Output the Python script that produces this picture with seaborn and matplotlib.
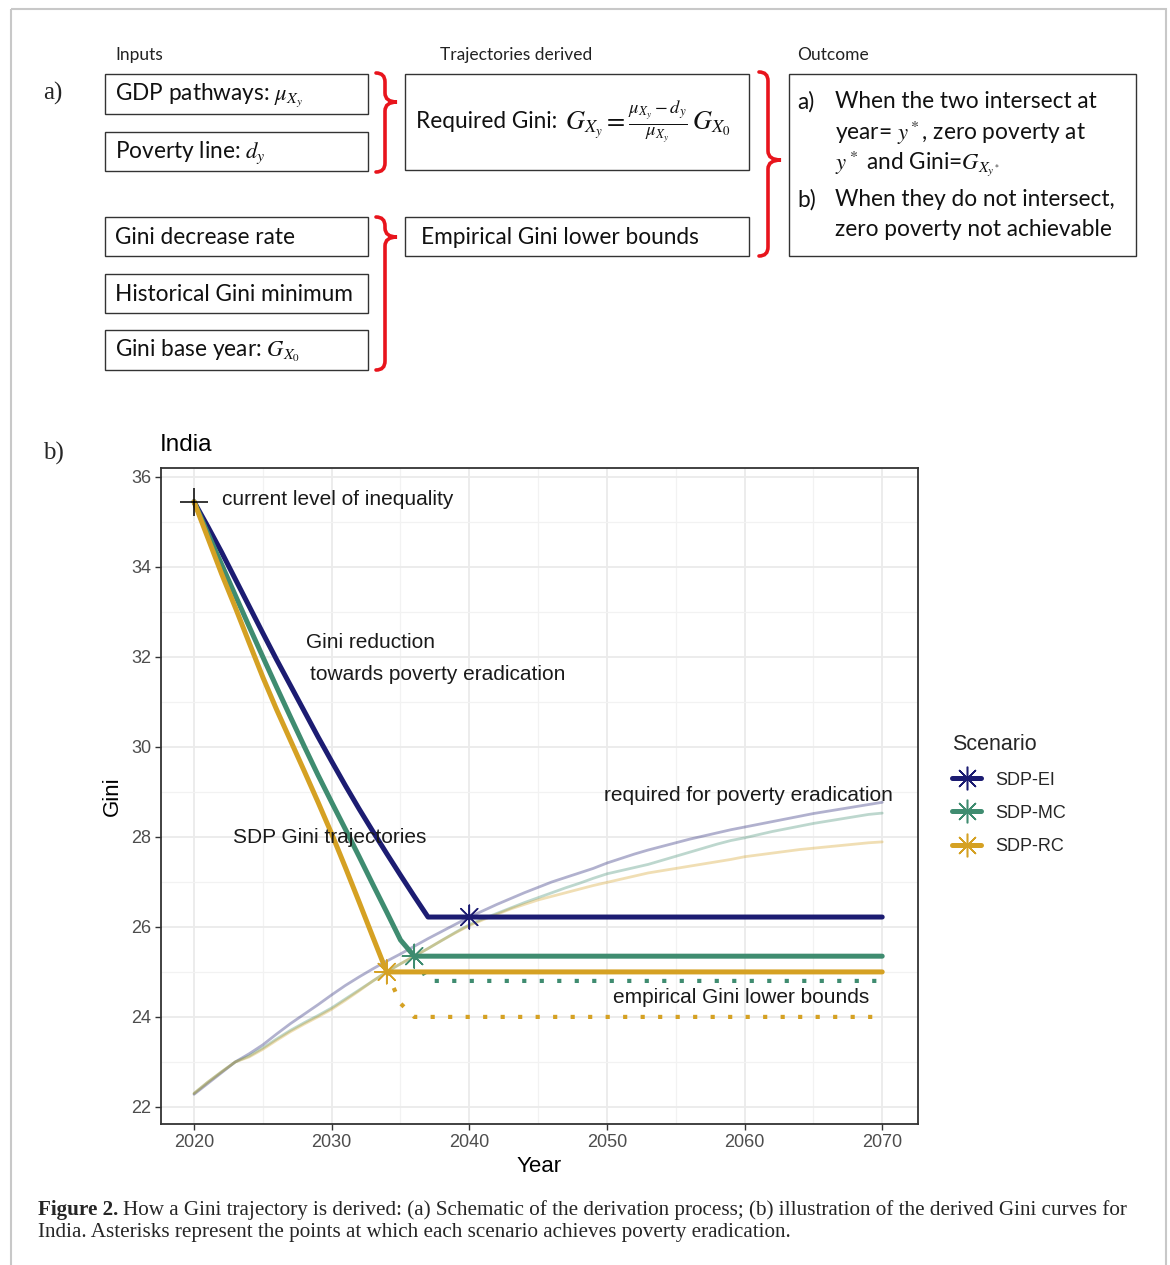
import matplotlib
matplotlib.use("Agg")
import numpy as np
import pandas as pd
import seaborn as sns
import matplotlib.pyplot as plt
from matplotlib.patches import Rectangle, PathPatch
from matplotlib.path import Path
from matplotlib.lines import Line2D

# ---- data ----
scenarios = ["SDP-EI", "SDP-MC", "SDP-RC"]
colors = ["#1c1c72", "#3f8c70", "#d5a123"]

# Gini required for poverty eradication (annual, 2020-2070)
req_years = list(range(2020, 2071))
req_ei = [22.28, 22.52, 22.76, 23.00, 23.18, 23.38, 23.62, 23.85, 24.06, 24.27,
          24.49, 24.70, 24.89, 25.07, 25.24, 25.40, 25.57, 25.74, 25.90, 26.06,
          26.22, 26.36, 26.50, 26.63, 26.76, 26.88, 27.00, 27.10, 27.20, 27.30,
          27.42, 27.52, 27.62, 27.71, 27.79, 27.87, 27.95, 28.02, 28.09, 28.16,
          28.22, 28.28, 28.34, 28.40, 28.46, 28.52, 28.57, 28.62, 28.67, 28.72,
          28.77]
req_mc = [22.30, 22.55, 22.78, 23.00, 23.13, 23.31, 23.51, 23.70, 23.87, 24.03,
          24.20, 24.40, 24.60, 24.80, 25.00, 25.18, 25.35, 25.52, 25.70, 25.88,
          26.05, 26.18, 26.30, 26.42, 26.54, 26.65, 26.76, 26.87, 26.97, 27.08,
          27.18, 27.25, 27.32, 27.39, 27.48, 27.57, 27.66, 27.75, 27.84, 27.92,
          27.98, 28.05, 28.12, 28.18, 28.24, 28.30, 28.35, 28.40, 28.45, 28.50,
          28.53]
req_rc = [22.30, 22.55, 22.78, 23.00, 23.11, 23.28, 23.48, 23.67, 23.84, 24.00,
          24.17, 24.37, 24.58, 24.80, 25.00, 25.18, 25.35, 25.52, 25.70, 25.87,
          26.03, 26.16, 26.28, 26.40, 26.50, 26.60, 26.68, 26.76, 26.84, 26.92,
          26.99, 27.06, 27.13, 27.20, 27.25, 27.30, 27.35, 27.40, 27.45, 27.50,
          27.56, 27.60, 27.64, 27.68, 27.72, 27.75, 27.78, 27.81, 27.84, 27.87,
          27.89]

# SDP Gini trajectories
traj_years_ei = list(range(2020, 2038)) + [2070]
traj_ei = [35.45, 34.90, 34.33, 33.73, 33.13, 32.53, 31.94, 31.37, 30.80, 30.23,
           29.68, 29.14, 28.62, 28.12, 27.63, 27.15, 26.68, 26.22, 26.22]
traj_years_mc = list(range(2020, 2037)) + [2070]
traj_mc = [35.45, 34.75, 34.06, 33.37, 32.68, 32.00, 31.33, 30.67, 30.02, 29.38,
           28.77, 28.17, 27.56, 26.94, 26.33, 25.71, 25.35, 25.35]
traj_years_rc = list(range(2020, 2035)) + [2070]
traj_rc = [35.45, 34.65, 33.85, 33.10, 32.32, 31.55, 30.83, 30.15, 29.47, 28.78,
           28.07, 27.32, 26.55, 25.77, 25.00, 25.00]

# empirical Gini lower bounds
lb_years_mc = [2036, 2037, 2070]
lb_mc = [25.35, 24.80, 24.80]
lb_years_rc = [2034, 2035, 2036, 2070]
lb_rc = [25.00, 24.30, 24.00, 24.00]

# poverty eradication points (asterisks)
erad_scen = ["SDP-EI", "SDP-MC", "SDP-RC"]
erad_year = [2040, 2036, 2034]
erad_gini = [26.22, 25.35, 25.00]

start_year = [2020]
start_gini = [35.45]


def long_df(parts):
    frames = []
    for scen, xs, ys in parts:
        frames.append(pd.DataFrame({"Year": xs, "Gini": ys, "Scenario": scen}))
    return pd.concat(frames, ignore_index=True)


req_df = long_df([("SDP-EI", req_years, req_ei),
                  ("SDP-MC", req_years, req_mc),
                  ("SDP-RC", req_years, req_rc)])
traj_df = long_df([("SDP-EI", traj_years_ei, traj_ei),
                   ("SDP-MC", traj_years_mc, traj_mc),
                   ("SDP-RC", traj_years_rc, traj_rc)])
erad_df = pd.DataFrame({"Year": erad_year, "Gini": erad_gini, "Scenario": erad_scen})
pal = dict(zip(scenarios, colors))

sns.set_theme(style="white")
plt.rcParams["font.family"] = ["Liberation Sans", "DejaVu Sans"]
plt.rcParams["mathtext.fontset"] = "stix"

W, H = 1170, 1265
fig = plt.figure(figsize=(W / 100, H / 100), dpi=100)

# ---- schematic / frame layer in pixel coordinates ----
bg = fig.add_axes([0, 0, 1, 1], zorder=0)
bg.set_xlim(0, W)
bg.set_ylim(H, 0)
bg.axis("off")
bg.patch.set_alpha(0)

bg.add_patch(Rectangle((11, 9), 1155, 1270, fill=False, ec="#c8c8c8", lw=1.5))

box_font = ["Lato", "DejaVu Sans"]
BS = 16.3


def box(x0, y0, x1, y1):
    bg.add_patch(Rectangle((x0, y0), x1 - x0, y1 - y0, fill=False, ec="#333333", lw=1.0))


def brace(x0, top, tip, bottom, xm, x1, color="#e8141c"):
    r = 9
    verts = [(x0, top),
             (xm, top), (xm, top + r),
             (xm, tip - r),
             (xm, tip), (x1, tip),
             (xm, tip), (xm, tip + r),
             (xm, bottom - r),
             (xm, bottom), (x0, bottom)]
    codes = [Path.MOVETO,
             Path.CURVE3, Path.CURVE3,
             Path.LINETO,
             Path.CURVE3, Path.CURVE3,
             Path.CURVE3, Path.CURVE3,
             Path.LINETO,
             Path.CURVE3, Path.CURVE3]
    bg.add_patch(PathPatch(Path(verts, codes), fill=False, ec=color, lw=2.6,
                           capstyle="round"))


def x_right_of(t):
    fig.canvas.draw()
    ext = t.get_window_extent()
    return bg.transData.inverted().transform((ext.x1, ext.y0))[0]


for txt, x in [("Inputs", 115), ("Trajectories derived", 440), ("Outcome", 797)]:
    bg.text(x, 55, txt, fontsize=12.5, family=box_font, va="center", color="#222222")

inputs = [(74, 114, r"GDP pathways: $\mu_{X_y}$"),
          (132, 171, r"Poverty line: $d_y$"),
          (217, 256, "Gini decrease rate"),
          (274, 313, "Historical Gini minimum"),
          (330, 370, r"Gini base year: $G_{X_0}$")]
for y0, y1, txt in inputs:
    box(105, y0, 368, y1)
    bg.text(115, (y0 + y1) / 2 + 1, txt, fontsize=BS, family=box_font, va="center", color="#111111")

box(405, 74, 749, 170)
req_lbl = bg.text(416, 121, "Required Gini: ", fontsize=BS, family=box_font,
                  va="center", color="#111111")
bg.text(x_right_of(req_lbl) + 2, 121,
        r"$G_{X_y} = \frac{\mu_{X_y} - d_y}{\mu_{X_y}}\,G_{X_0}$",
        fontsize=19, va="center", color="#111111")
box(405, 217, 749, 256)
bg.text(421, 237, "Empirical Gini lower bounds", fontsize=BS, family=box_font,
        va="center", color="#111111")

box(789, 74, 1136, 256)
outcome = [(102, "a)", "When the two intersect at"),
           (133, "", r"year= $y^*$, zero poverty at"),
           (163, "", r"$y^*$ and Gini=$G_{X_{y^*}}$"),
           (200, "b)", "When they do not intersect,"),
           (230, "", "zero poverty not achievable")]
for y, lab, txt in outcome:
    if lab:
        bg.text(797, y, lab, fontsize=BS, family=box_font, va="center", color="#111111")
    bg.text(835, y, txt, fontsize=BS, family=box_font, va="center", color="#111111")

brace(376, 73, 102, 172, 385, 397)
brace(376, 217, 237, 370, 385, 397)
brace(759, 72, 160, 256, 768, 781)

serif = ["Liberation Serif", "DejaVu Serif"]
bg.text(43, 93, "a)", fontsize=18, family=serif, va="center")
bg.text(43, 453, "b)", fontsize=18, family=serif, va="center")

CS = 15.2
fig_lbl = bg.text(38, 1210, "Figure 2.", fontsize=CS, family=serif, weight="bold", va="center")
bg.text(x_right_of(fig_lbl) + 5, 1210,
        "How a Gini trajectory is derived: (a) Schematic of the derivation process; "
        "(b) illustration of the derived Gini curves for", fontsize=CS, family=serif, va="center")
bg.text(38, 1233, "India. Asterisks represent the points at which each scenario achieves poverty eradication.",
        fontsize=CS, family=serif, va="center")

# ---- India chart ----
ax = fig.add_axes([161 / W, 1 - 1124 / H, (918 - 161) / W, (1124 - 468) / H], zorder=2)

sns.lineplot(data=req_df, x="Year", y="Gini", hue="Scenario", palette=pal, alpha=0.34,
             linewidth=2.0, legend=False, estimator=None, sort=False, ax=ax)
for xs, ys, c in [(lb_years_mc, lb_mc, pal["SDP-MC"]), (lb_years_rc, lb_rc, pal["SDP-RC"])]:
    sns.lineplot(x=xs, y=ys, color=c, linewidth=3.0, linestyle=(0, (1, 3.2)),
                 dash_capstyle="butt", estimator=None, sort=False, ax=ax)
sns.lineplot(data=traj_df, x="Year", y="Gini", hue="Scenario", palette=pal,
             linewidth=3.6, legend=False, estimator=None, sort=False, ax=ax)
sns.scatterplot(data=erad_df, x="Year", y="Gini", hue="Scenario", palette=pal,
                marker=(8, 2, 0), s=290, linewidth=1.1, legend=False, zorder=5, ax=ax)
sns.scatterplot(x=start_year, y=start_gini, color="black", marker="+", s=420,
                linewidth=1.1, legend=False, zorder=6, ax=ax)

ax.set_xlim(2017.6, 2072.6)
ax.set_ylim(21.62, 36.2)
ax.set_xticks([2020, 2030, 2040, 2050, 2060, 2070])
ax.set_yticks([22, 24, 26, 28, 30, 32, 34, 36])
ax.set_xticks([2025, 2035, 2045, 2055, 2065], minor=True)
ax.set_yticks([23, 25, 27, 29, 31, 33, 35], minor=True)
ax.grid(True, which="major", color="#ebebeb", lw=1.3)
ax.grid(True, which="minor", color="#f2f2f2", lw=0.9)
ax.set_axisbelow(True)
for sp in ax.spines.values():
    sp.set_color("#333333")
    sp.set_linewidth(1.3)
ax.tick_params(which="major", direction="out", length=4, width=1, color="#333333",
               labelsize=13, labelcolor="#4d4d4d", bottom=True, left=True, pad=3)
ax.tick_params(which="minor", length=0)
ax.set_xlabel("Year", fontsize=16, color="black", labelpad=4)
ax.set_ylabel("Gini", fontsize=16, color="black", labelpad=6)
ax.set_title("India", loc="left", fontsize=17.5, color="black", pad=12, x=-0.002)

tkw = dict(fontsize=15, color="#1a1a1a", va="center")
ax.text(2022.0, 35.5, "current level of inequality", **tkw)
ax.text(2028.15, 32.33, "Gini reduction", **tkw)
ax.text(2028.4, 31.6, "towards poverty eradication", **tkw)
ax.text(2022.85, 27.98, "SDP Gini trajectories", **tkw)
ax.text(2070.8, 28.93, "required for poverty eradication", ha="right", **tkw)
ax.text(2050.45, 24.44, "empirical Gini lower bounds", **tkw)

handles = [Line2D([], [], color=c, lw=3.6, marker=(8, 2, 0), markersize=17,
                  markeredgewidth=1.1) for c in colors]
leg = fig.legend(handles, scenarios, title="Scenario", loc="upper left",
                 bbox_to_anchor=(936 / W, 1 - 718 / H), frameon=False,
                 fontsize=13, title_fontsize=15.5, handlelength=1.6,
                 handletextpad=0.8, labelspacing=0.9)
leg._legend_box.align = "left"

fig.savefig("out.png", dpi=100)
